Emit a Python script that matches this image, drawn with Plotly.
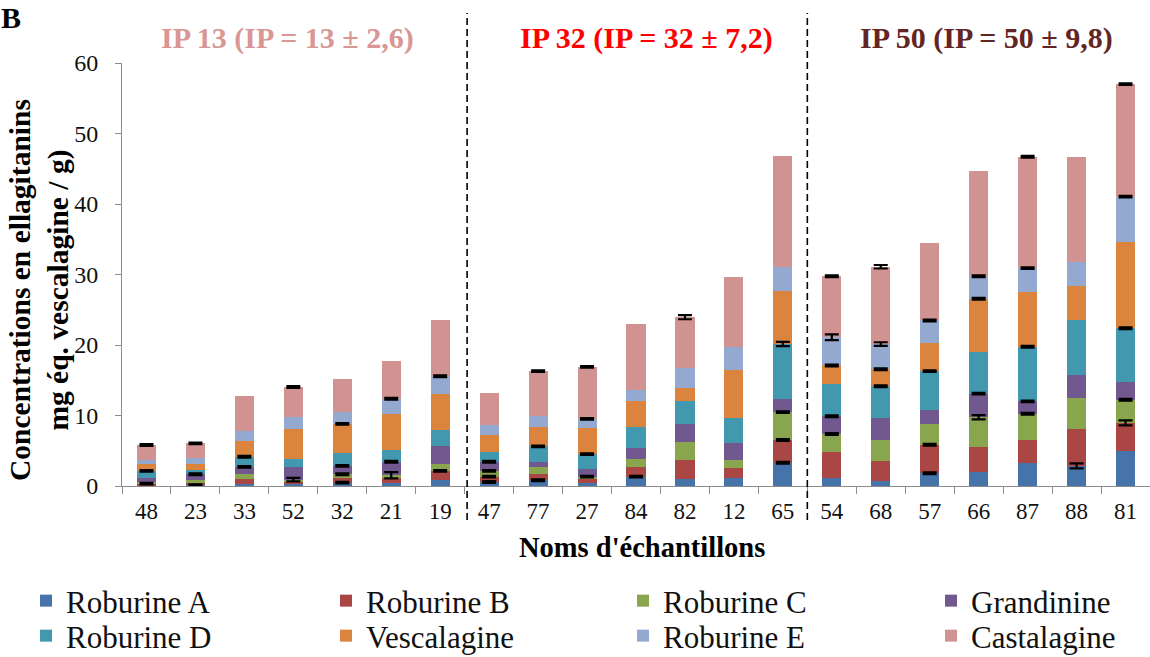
import plotly.graph_objects as go

# ---------------- data ----------------
samples = ["48", "23", "33", "52", "32", "21", "19",
           "47", "77", "27", "84", "82", "12", "65",
           "54", "68", "57", "66", "87", "88", "81"]

roburine_a  = [0.10, 0.12, 0.33, 0.33, 0.48, 0.48, 0.86, 0.57, 0.81, 0.48, 1.33, 1.05, 1.19, 3.29, 1.19, 0.71, 1.81, 2.05, 3.33, 2.86, 5.00]
roburine_b  = [0.23, 0.31, 0.72, 0.29, 0.71, 0.62, 1.28, 0.76, 0.95, 0.57, 1.38, 2.66, 1.33, 3.23, 3.67, 2.77, 4.05, 3.52, 3.19, 5.19, 3.95]
roburine_c  = [0.29, 0.38, 0.62, 0.28, 0.48, 0.42, 1.05, 0.81, 0.95, 0.28, 1.19, 2.48, 1.15, 3.96, 2.52, 3.04, 2.95, 4.19, 3.72, 4.43, 3.29]
grandinine  = [0.57, 0.86, 1.04, 1.81, 1.19, 1.91, 2.43, 1.29, 0.72, 1.05, 1.43, 2.62, 2.38, 1.81, 2.52, 3.10, 2.00, 3.34, 1.76, 3.23, 2.52]
roburine_d  = [0.95, 0.57, 1.43, 1.10, 1.85, 1.71, 2.33, 1.43, 2.19, 2.14, 3.00, 3.24, 3.57, 7.85, 4.62, 4.52, 5.48, 5.95, 7.76, 7.77, 7.62]
vescalagine = [0.96, 0.95, 2.29, 4.29, 4.10, 5.10, 5.15, 2.43, 2.71, 3.72, 3.72, 1.81, 6.90, 7.48, 2.58, 2.43, 3.95, 7.52, 7.72, 4.85, 12.24]
roburine_e  = [0.57, 0.76, 1.33, 1.66, 1.67, 2.14, 2.47, 1.38, 1.53, 1.28, 1.52, 2.90, 3.15, 3.48, 4.00, 3.57, 3.24, 3.19, 3.42, 3.43, 6.43]
castalagine = [2.14, 2.10, 5.04, 4.29, 4.76, 5.29, 8.00, 4.57, 6.43, 7.38, 9.43, 7.19, 9.95, 15.76, 8.66, 10.96, 11.04, 14.95, 15.81, 14.95, 15.95]

# standard deviations (None = no error bar shown)
N = None
err_a    = [N, 0.12, N, N, 0.12, N, N, 0.12, 0.12, N, 0.12, N, N, 0.12, N, N, 0.12, N, N, 0.35, N]
err_b    = [0.12, N, N, N, N, N, 0.12, 0.12, N, N, N, N, N, 0.12, N, N, 0.12, N, N, N, 0.35]
err_c    = [N, N, N, 0.25, 0.12, 0.45, N, 0.12, N, 0.12, N, N, N, 0.12, 0.12, N, N, 0.3, 0.12, N, 0.12]
err_g    = [N, 0.12, 0.12, N, 0.12, 0.12, N, 0.12, N, N, N, N, N, N, 0.12, N, N, 0.12, 0.12, N, N]
err_d    = [0.12, N, 0.12, N, N, N, N, N, 0.12, 0.12, N, N, N, 0.3, N, 0.12, 0.12, N, 0.12, N, 0.12]
err_v    = [N, N, N, N, 0.12, N, N, N, N, N, N, N, N, N, 0.12, 0.12, N, 0.12, N, N, N]
err_e    = [N, N, N, N, N, 0.12, 0.12, N, N, 0.12, N, N, N, N, 0.4, 0.25, 0.12, 0.12, 0.12, N, 0.12]
err_cast = [0.12, 0.12, N, 0.12, N, N, N, N, 0.12, 0.12, N, 0.3, N, N, 0.12, 0.25, N, N, 0.12, N, 0.12]

series_names = ["Roburine A", "Roburine B", "Roburine C", "Grandinine",
                "Roburine D", "Vescalagine", "Roburine E", "Castalagine"]
series_values = [roburine_a, roburine_b, roburine_c, grandinine,
                 roburine_d, vescalagine, roburine_e, castalagine]
series_errors = [err_a, err_b, err_c, err_g, err_d, err_v, err_e, err_cast]

group_titles = ["IP 13 (IP = 13 ± 2,6)", "IP 32 (IP = 32 ± 7,2)", "IP 50 (IP = 50 ± 9,8)"]

# ---------------- style ----------------
colors = ["#4673AA", "#AA4644", "#89A54E", "#71588F",
          "#4198AF", "#DB843D", "#93A9D0", "#D09392"]
title_colors = ["#D99694", "#FF0000", "#632523"]
SERIF = "Liberation Serif, Times New Roman, serif"

W, H = 1150, 657
ML, MR, MT, MB = 122, 0, 63, 171
PW, PH = W - ML - MR, H - MT - MB

def px_x(px):
    return (px - ML) / PW

def px_y(py):
    return (H - MB - py) / PH

fig = go.Figure()

# legend placement: 4 columns x 2 rows, one legend per entry
legend_cols = [26, 326, 623, 931]
legend_rows = [601, 636]

for i, (name, vals, col) in enumerate(zip(series_names, series_values, colors)):
    lg = "legend" if i == 0 else f"legend{i + 1}"
    fig.add_trace(go.Bar(
        x=samples, y=vals, name=name,
        marker=dict(color=col, line=dict(width=0)),
        legend=lg, hoverinfo="x+y+name",
    ))

# error bars at the top of each stacked segment
cum = [0.0] * len(samples)
for i, (vals, errs) in enumerate(zip(series_values, series_errors)):
    cum = [c + v for c, v in zip(cum, vals)]
    xs = [s for s, e in zip(samples, errs) if e is not None]
    ys = [c for c, e in zip(cum, errs) if e is not None]
    es = [e for e in errs if e is not None]
    fig.add_trace(go.Scatter(
        x=xs, y=ys, mode="markers",
        marker=dict(size=1, color="rgba(0,0,0,0)"),
        error_y=dict(type="data", array=es, symmetric=True,
                     thickness=2.2, width=7, color="black"),
        showlegend=False, hoverinfo="skip",
    ))

layout_legends = {}
for i, name in enumerate(series_names):
    lg = "legend" if i == 0 else f"legend{i + 1}"
    row, colx = divmod(i, 4)
    layout_legends[lg] = dict(
        x=px_x(legend_cols[colx]), y=px_y(legend_rows[row]),
        xanchor="left", yanchor="middle",
        orientation="v", bgcolor="rgba(0,0,0,0)",
        font=dict(family=SERIF, size=31, color="#111"),
    )

fig.update_layout(
    width=W, height=H,
    margin=dict(l=ML, r=MR, t=MT, b=MB, autoexpand=False),
    barmode="stack", bargap=0.61,
    plot_bgcolor="white", paper_bgcolor="white",
    font=dict(family=SERIF, color="black"),
    xaxis=dict(
        type="category", range=[-0.5, len(samples) - 0.5],
        showline=True, linecolor="#8c8c8c", linewidth=1,
        ticks="outside", tickson="boundaries", ticklen=7, tickcolor="#8c8c8c",
        tickfont=dict(family=SERIF, size=23, color="#111"),
        ticklabelstandoff=4, showgrid=False, zeroline=False,
    ),
    yaxis=dict(
        range=[0, 60], dtick=10, showline=True, linecolor="#8c8c8c", linewidth=1,
        ticks="outside", ticklen=6, tickcolor="#8c8c8c",
        tickfont=dict(family=SERIF, size=24, color="#111"),
        ticklabelstandoff=12, showgrid=False, zeroline=False,
    ),
    **layout_legends,
)

annotations = []
for t, c, cx in zip(group_titles, title_colors, [287, 646, 986]):
    annotations.append(dict(
        text=f"<b>{t}</b>", x=px_x(cx), y=px_y(38), xref="paper", yref="paper",
        showarrow=False, xanchor="center", yanchor="middle",
        font=dict(family=SERIF, size=30, color=c),
    ))
annotations.append(dict(
    text="<b>B</b>", x=px_x(11), y=px_y(18), xref="paper", yref="paper",
    showarrow=False, xanchor="center", yanchor="middle",
    font=dict(family=SERIF, size=30, color="black"),
))
annotations.append(dict(
    text="<b>Noms d'échantillons</b>", x=px_x(642), y=px_y(547), xref="paper", yref="paper",
    showarrow=False, xanchor="center", yanchor="middle",
    font=dict(family=SERIF, size=28.5, color="black"),
))
annotations.append(dict(
    text="<b>Concentrations en ellagitanins<br>mg éq. vescalagine / g)</b>",
    x=px_x(39), y=px_y(290), xref="paper", yref="paper", textangle=-90,
    showarrow=False, xanchor="center", yanchor="middle",
    font=dict(family=SERIF, size=29.5, color="black"),
))
fig.update_layout(annotations=annotations)

# dashed separators between groups
for xb in [6.55, 13.5]:
    fig.add_shape(type="line", xref="x", yref="paper",
                  x0=xb, x1=xb, y0=px_y(520), y1=px_y(13),
                  line=dict(color="black", width=1.6, dash="7px,4px"))

fig.write_html("out.html", config={"displayModeBar": False},
               post_script="document.body.style.margin='0';")
